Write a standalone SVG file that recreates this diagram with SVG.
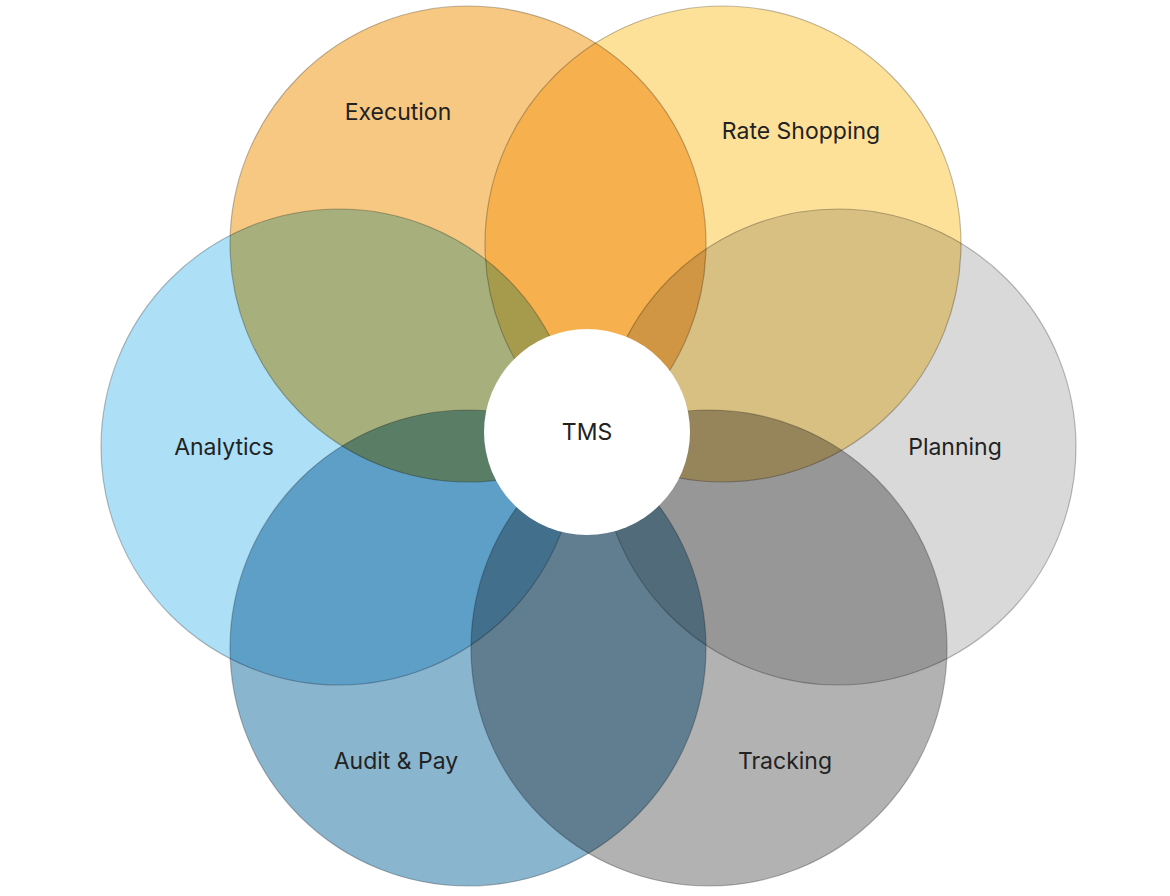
<svg xmlns="http://www.w3.org/2000/svg" width="1170" height="896" viewBox="0 0 1170 896">
<style>
.c{stroke:#000;stroke-opacity:0.25;stroke-width:1.2;mix-blend-mode:multiply}
.t{font-family:Inter,"Liberation Sans",sans-serif;font-size:23px;fill:#222;text-anchor:middle;dominant-baseline:central}
</style>
<rect width="1170" height="896" fill="#fff"/>
<g style="isolation:isolate">
<rect width="1170" height="896" fill="#fff"/>
<g id="analytics" class="c"><circle cx="339" cy="447" r="238" fill="#ade0f6"/></g>
<g id="planning" class="c"><circle cx="838" cy="447" r="238" fill="#d9d9d9"/></g>
<g id="tracking" class="c"><circle cx="709" cy="648" r="238" fill="#b2b2b2"/></g>
<g id="audit-pay" class="c"><circle cx="468" cy="648" r="238" fill="#89b5cf"/></g>
<g id="rate-shopping" class="c"><circle cx="723" cy="244" r="238" fill="#fee199"/></g>
<g id="execution" class="c"><circle cx="468" cy="244" r="238" fill="#f7c882"/></g>
</g>
<g id="tms"><circle cx="587" cy="432" r="103" fill="#fff"/><text class="t" x="587" y="432">TMS</text></g>
<g id="labels">
<text class="t" x="398" y="112">Execution</text>
<text class="t" x="801" y="131">Rate Shopping</text>
<text class="t" x="224" y="447">Analytics</text>
<text class="t" x="955" y="447">Planning</text>
<text class="t" x="396" y="761">Audit &amp; Pay</text>
<text class="t" x="785" y="761">Tracking</text>
</g>
<g id="connectors"/>
</svg>
